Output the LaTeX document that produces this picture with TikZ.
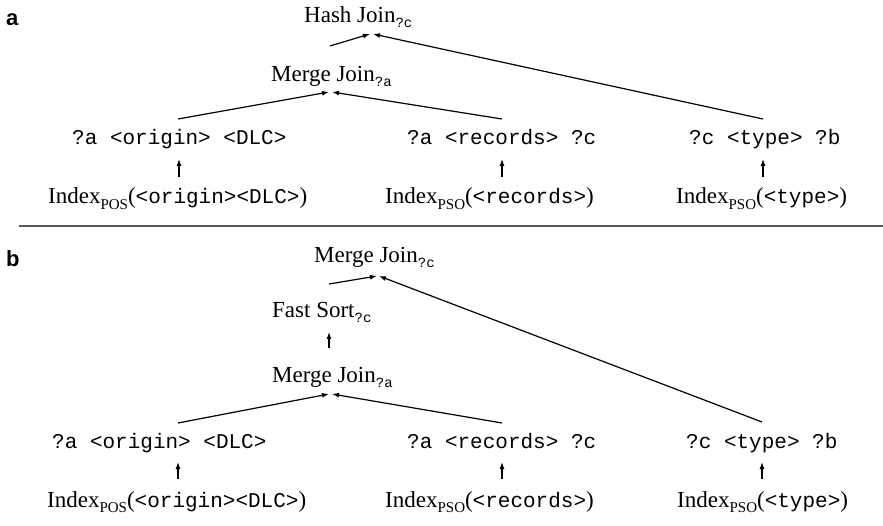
\documentclass[tikz,border=0pt]{standalone}
\usepackage{fontspec}
\setmainfont{Liberation Serif}
\setmonofont{Liberation Mono}
\setsansfont{Liberation Sans}
\usetikzlibrary{arrows.meta}
\newcommand{\opsub}[1]{\raisebox{-5pt}{\fontsize{14}{14}\ttfamily #1}}
\newcommand{\ixsub}[1]{\raisebox{-5.5pt}{\fontsize{15}{15}\rmfamily #1}}
\newcommand{\mt}[1]{{\fontsize{21}{25}\ttfamily #1}}
\begin{document}
\begin{tikzpicture}[x=1pt,y=-1pt,
  optext/.style={inner sep=0pt, anchor=base west, font=\fontsize{23}{27}\selectfont},
  triple/.style={inner sep=0pt, anchor=base west, font=\fontsize{21}{25}\ttfamily},
  panellbl/.style={inner sep=0pt, anchor=base west, font=\fontsize{22}{26}\sffamily\bfseries},
  conn/.style={line width=1.2pt, -{Latex[length=7pt,width=5pt]}},
  sep/.style={line width=2.5pt, black!65}]
\useasboundingbox (0,0) rectangle (883,526);
% ---------- panel a ----------
\node[panellbl] (lblA) at (6,26) {a};
\node[optext] (hj) at (304,23) {Hash Join\opsub{?c}};
\node[optext] (mja) at (271,82) {Merge Join\opsub{?a}};
\node[triple] (ta1) at (72,145) {?a <origin> <DLC>};
\node[triple] (ta2) at (407,145) {?a <records> ?c};
\node[triple] (ta3) at (689,145) {?c <type> ?b};
\node[optext] (ia1) at (48,204) {Index\ixsub{POS}(\mt{<origin><DLC>})};
\node[optext] (ia2) at (385,204) {Index\ixsub{PSO}(\mt{<records>})};
\node[optext] (ia3) at (676,204) {Index\ixsub{PSO}(\mt{<type>})};
\draw[conn] ([shift={(59,-36)}]mja.base west) -- ([shift={(66,11)}]hj.base west);
\draw[conn] ([shift={(74,-26)}]ta3.base west) -- ([shift={(69,11)}]hj.base west);
\draw[conn] ([shift={(106,-26)}]ta1.base west) -- ([shift={(58,10)}]mja.base west);
\draw[conn] ([shift={(95,-26)}]ta2.base west) -- ([shift={(61,10)}]mja.base west);
\draw[conn] ([shift={(131,-27)}]ia1.base west) -- ([shift={(107,14)}]ta1.base west);
\draw[conn] ([shift={(117,-27)}]ia2.base west) -- ([shift={(95,14)}]ta2.base west);
\draw[conn] ([shift={(87,-27)}]ia3.base west) -- ([shift={(74,14)}]ta3.base west);
% separator
\coordinate (sepL) at (19,226);
\coordinate (sepR) at (883,226);
\draw[sep] (sepL) -- (sepR);
% ---------- panel b ----------
\node[panellbl] (lblB) at (6,267) {b};
\node[optext] (mjc) at (314,263) {Merge Join\opsub{?c}};
\node[optext] (fs) at (272,318) {Fast Sort\opsub{?c}};
\node[optext] (mjb) at (272,382) {Merge Join\opsub{?a}};
\node[triple] (tb1) at (52,448) {?a <origin> <DLC>};
\node[triple] (tb2) at (407,448) {?a <records> ?c};
\node[triple] (tb3) at (686,448) {?c <type> ?b};
\node[optext] (ib1) at (47,507) {Index\ixsub{POS}(\mt{<origin><DLC>})};
\node[optext] (ib2) at (385,507) {Index\ixsub{PSO}(\mt{<records>})};
\node[optext] (ib3) at (677,507) {Index\ixsub{PSO}(\mt{<type>})};
\draw[conn] ([shift={(57,-34)}]fs.base west) -- ([shift={(63,13)}]mjc.base west);
\draw[conn] ([shift={(76,-26)}]tb3.base west) -- ([shift={(65,13)}]mjc.base west);
\draw[conn] ([shift={(57,-34)}]mjb.base west) -- ([shift={(57,14)}]fs.base west);
\draw[conn] ([shift={(126,-25)}]tb1.base west) -- ([shift={(57,12)}]mjb.base west);
\draw[conn] ([shift={(95,-25)}]tb2.base west) -- ([shift={(60,12)}]mjb.base west);
\draw[conn] ([shift={(131,-28)}]ib1.base west) -- ([shift={(126,14)}]tb1.base west);
\draw[conn] ([shift={(117,-28)}]ib2.base west) -- ([shift={(95,14)}]tb2.base west);
\draw[conn] ([shift={(85,-28)}]ib3.base west) -- ([shift={(76,14)}]tb3.base west);
\end{tikzpicture}
\end{document}
